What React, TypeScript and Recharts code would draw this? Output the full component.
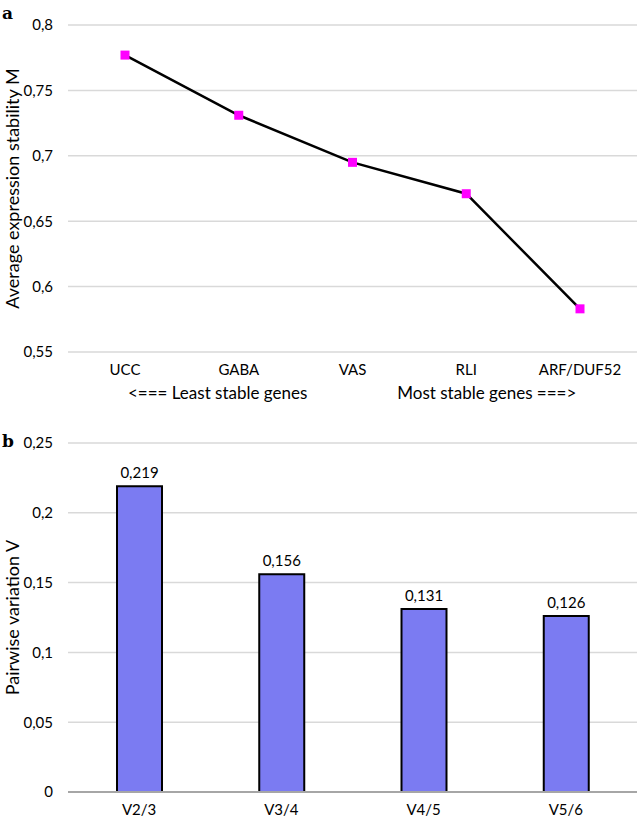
import {
  Bar,
  BarChart,
  CartesianGrid,
  LabelList,
  Line,
  LineChart,
  XAxis,
  YAxis,
} from "recharts";

const genes = ["UCC", "GABA", "VAS", "RLI", "ARF/DUF52"];
const stabilityM = [0.777, 0.731, 0.695, 0.671, 0.583];
const stabilityTicks = [0.55, 0.6, 0.65, 0.7, 0.75, 0.8];

const pairs = ["V2/3", "V3/4", "V4/5", "V5/6"];
const pairwiseV = [0.219, 0.156, 0.131, 0.126];
const pairwiseTicks = [0, 0.05, 0.1, 0.15, 0.2, 0.25];

const FONT = "Lato, 'Open Sans', sans-serif";
const GRID = "#d9d9d9";
const tickStyle = { fill: "#000", fontSize: 15, fontFamily: FONT };
const titleStyle = { textAnchor: "middle", fill: "#000", fontSize: 18, fontFamily: FONT };

const comma = (v: number | string) => String(v).replace(".", ",");

const lineData = genes.map((gene, i) => ({ gene, m: stabilityM[i] }));
const barData = pairs.map((pair, i) => ({ pair, v: pairwiseV[i] }));

function SquareDot(props: any) {
  const { cx, cy } = props;
  if (cx == null || cy == null) return null;
  return <rect x={cx - 4.5} y={cy - 4.5} width={9} height={9} fill="#ff00ff" />;
}

function StableTitle(props: any) {
  const { viewBox } = props;
  if (!viewBox) return null;
  const y = viewBox.y + 47;
  const style = { fill: "#000", fontSize: 17, fontFamily: FONT };
  return (
    <g>
      <text x={viewBox.x + viewBox.width * 0.263} y={y} textAnchor="middle" style={style}>
        {"<=== Least stable genes"}
      </text>
      <text x={viewBox.x + viewBox.width * 0.736} y={y} textAnchor="middle" style={style}>
        {"Most stable genes ===>"}
      </text>
    </g>
  );
}

function PanelTag({ text, top }: { text: string; top: number }) {
  return (
    <div
      style={{
        position: "absolute",
        left: 2,
        top,
        fontFamily: "'DejaVu Serif', 'Liberation Serif', serif",
        fontWeight: 700,
        fontSize: 17,
        lineHeight: "20px",
      }}
    >
      {text}
    </div>
  );
}

export default function App() {
  return (
    <div
      style={{
        position: "absolute",
        left: 0,
        top: 0,
        width: 638,
        height: 820,
        background: "#fff",
      }}
    >
      <PanelTag text="a" top={3} />
      <PanelTag text="b" top={431} />
      <div style={{ position: "absolute", left: 0, top: 0 }}>
        <LineChart
          width={638}
          height={420}
          data={lineData}
          margin={{ top: 25, right: 1, bottom: 8, left: 0 }}
        >
          <CartesianGrid stroke={GRID} strokeWidth={1.5} vertical={false} />
          <XAxis
            dataKey="gene"
            axisLine={false}
            tickLine={false}
            tick={tickStyle}
            tickMargin={6}
            height={60}
            padding={{ left: 57, right: 57 }}
            interval={0}
            label={<StableTitle />}
          />
          <YAxis
            domain={[0.55, 0.8]}
            ticks={stabilityTicks}
            tickFormatter={comma}
            axisLine={false}
            tickLine={false}
            tick={tickStyle}
            tickMargin={9}
            width={68}
            label={{
              value: "Average expression stability M",
              angle: -90,
              position: "insideLeft",
              offset: 13,
              style: titleStyle,
            }}
          />
          <Line
            type="linear"
            dataKey="m"
            stroke="#000"
            strokeWidth={2.5}
            dot={<SquareDot />}
            activeDot={false}
            isAnimationActive={false}
          />
        </LineChart>
      </div>
      <div style={{ position: "absolute", left: 0, top: 420 }}>
        <BarChart
          width={638}
          height={400}
          data={barData}
          margin={{ top: 23, right: 1, bottom: 0, left: 0 }}
        >
          <CartesianGrid stroke={GRID} strokeWidth={1.5} vertical={false} />
          <XAxis
            dataKey="pair"
            axisLine={{ stroke: "#a6a6a6", strokeWidth: 2 }}
            tickLine={false}
            tick={tickStyle}
            tickMargin={6}
            height={28}
            interval={0}
          />
          <YAxis
            domain={[0, 0.25]}
            ticks={pairwiseTicks}
            tickFormatter={comma}
            axisLine={false}
            tickLine={false}
            tick={tickStyle}
            tickMargin={9}
            width={68}
            label={{
              value: "Pairwise variation V",
              angle: -90,
              position: "insideLeft",
              offset: 13,
              style: titleStyle,
            }}
          />
          <Bar
            dataKey="v"
            fill="#7b7bf2"
            stroke="#000"
            strokeWidth={2}
            barSize={45}
            isAnimationActive={false}
          >
            <LabelList
              dataKey="v"
              position="top"
              offset={8}
              formatter={(v: any) => comma(v)}
              style={{ fill: "#000", fontSize: 15, fontFamily: FONT }}
            />
          </Bar>
        </BarChart>
      </div>
    </div>
  );
}
